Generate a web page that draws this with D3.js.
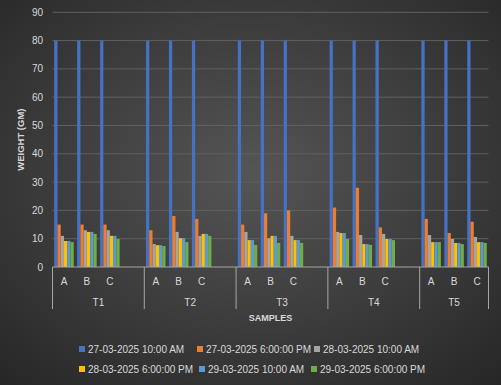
<!DOCTYPE html>
<html>
<head>
<meta charset="utf-8">
<script src="https://cdn.jsdelivr.net/npm/d3@7"></script>
<style>
  body { margin: 0; background: #333; }
  svg { display: block; font-family: "Liberation Sans", Arial, sans-serif; }
</style>
</head>
<body>
<svg id="chart" width="501" height="385"></svg>
<script>
let groups = ['T1', 'T2', 'T3', 'T4', 'T5']
let samples = ['A', 'B', 'C']
let seriesNames = ['27-03-2025 10:00 AM', '27-03-2025 6:00:00 PM', '28-03-2025 10:00 AM',
                   '28-03-2025 6:00:00 PM', '29-03-2025 10:00 AM', '29-03-2025 6:00:00 PM']
let colors = ['#4472C4', '#ED7D31', '#A5A5A5', '#FFC000', '#5B9BD5', '#70AD47']
let yTicks = [0, 10, 20, 30, 40, 50, 60, 70, 80, 90]

// values in order T1A, T1B, T1C, T2A ... T5C
let s1 = [80, 80, 80, 80, 80, 80, 80, 80, 80, 80, 80, 80, 80, 80, 80]
let s2 = [15, 15, 15, 13, 18, 17, 15, 19, 20, 21, 28, 14, 17, 12, 16]
let s3 = [11, 13, 13, 8.1, 12.4, 11, 12.4, 10.2, 11, 12.4, 11.3, 11.7, 11.3, 9.9, 10.6]
let s4 = [9.2, 12.4, 11, 7.7, 10.2, 11.7, 9.5, 11, 9.5, 12, 8.1, 9.9, 8.8, 8.5, 8.8]
let s5 = [9.2, 12.4, 11, 7.7, 10.2, 11.7, 9.5, 11, 9.5, 12, 8.1, 9.9, 8.8, 8.5, 8.8]
let s6 = [8.8, 11.7, 9.9, 7.4, 8.8, 11, 7.8, 8.5, 8.5, 9.9, 7.8, 9.5, 8.8, 8.1, 8.5]
let allSeries = [s1, s2, s3, s4, s5, s6]

let svg = d3.select('#chart')

// dark radial background
let defs = svg.append('defs')
let grad = defs.append('radialGradient').attr('id', 'bg')
    .attr('cx', '50%').attr('cy', '45%').attr('r', '75%')
grad.append('stop').attr('offset', '0%').attr('stop-color', '#555555')
grad.append('stop').attr('offset', '100%').attr('stop-color', '#262626')
svg.append('rect').attr('width', 501).attr('height', 385).attr('fill', 'url(#bg)')

// category keys, with an empty slot after each group except the last
let keys = []
groups.forEach((g, gi) => {
    samples.forEach(s => keys.push(g + '-' + s))
    if (gi < groups.length - 1) keys.push(g + '-gap')
})

let plotLeft = 52.5, plotRight = 488.5, plotTop = 12.3, plotBottom = 267
let x = d3.scaleBand().domain(keys).range([plotLeft, plotRight]).padding(0)
let y = d3.scaleLinear().domain([0, 90]).range([plotBottom, plotTop])
let inner = d3.scaleBand().domain(d3.range(6))
    .range([x.bandwidth() * 0.075, x.bandwidth() * 0.925]).padding(0)

// gridlines
svg.append('g').selectAll('line')
    .data(yTicks.filter(t => t > 0))
    .enter().append('line')
    .attr('x1', plotLeft).attr('x2', plotRight)
    .attr('y1', d => y(d)).attr('y2', d => y(d))
    .attr('stroke', '#606060').attr('stroke-width', 1)

// y tick labels
svg.append('g').selectAll('text')
    .data(yTicks)
    .enter().append('text')
    .attr('x', 43).attr('y', d => y(d) + 3.5)
    .attr('text-anchor', 'end')
    .attr('fill', '#d9d9d9').attr('font-size', 10)
    .text(d => d)

// bars
let cells = []
groups.forEach((g, gi) => {
    samples.forEach((s, si) => {
        allSeries.forEach((ser, k) => {
            cells.push({ key: g + '-' + s, k: k, v: ser[gi * 3 + si] })
        })
    })
})
svg.append('g').selectAll('rect')
    .data(cells)
    .enter().append('rect')
    .attr('x', d => x(d.key) + inner(d.k))
    .attr('width', inner.bandwidth())
    .attr('y', d => y(d.v))
    .attr('height', d => y(0) - y(d.v))
    .attr('fill', d => colors[d.k])

// category axis line
let axisCol = '#a6a6a6'
svg.append('line').attr('x1', plotLeft).attr('x2', plotRight)
    .attr('y1', plotBottom).attr('y2', plotBottom)
    .attr('stroke', axisCol).attr('stroke-width', 1)

// group dividers
let dividerX = groups.map(g => x(g + '-A')).concat([plotRight])
svg.append('g').selectAll('line')
    .data(dividerX)
    .enter().append('line')
    .attr('x1', d => d).attr('x2', d => d)
    .attr('y1', plotBottom).attr('y2', 309)
    .attr('stroke', axisCol).attr('stroke-width', 1)

// sample labels
svg.append('g').selectAll('text')
    .data(keys.filter(k => !k.endsWith('gap')))
    .enter().append('text')
    .attr('x', d => x(d) + x.bandwidth() / 2).attr('y', 284.5)
    .attr('text-anchor', 'middle')
    .attr('fill', '#d9d9d9').attr('font-size', 10)
    .text(d => d.split('-')[1])

// group labels
svg.append('g').selectAll('text')
    .data(groups)
    .enter().append('text')
    .attr('x', (g, i) => (dividerX[i] + dividerX[i + 1]) / 2).attr('y', 305.5)
    .attr('text-anchor', 'middle')
    .attr('fill', '#d9d9d9').attr('font-size', 10)
    .text(d => d)

// axis titles
svg.append('text')
    .attr('x', (plotLeft + plotRight) / 2).attr('y', 320.5)
    .attr('text-anchor', 'middle')
    .attr('fill', '#d9d9d9').attr('font-size', 9).attr('font-weight', 'bold')
    .text('SAMPLES')

svg.append('text')
    .attr('transform', 'translate(24,' + ((plotTop + plotBottom) / 2) + ') rotate(-90)')
    .attr('text-anchor', 'middle')
    .attr('fill', '#d9d9d9').attr('font-size', 9.5).attr('font-weight', 'bold')
    .text('WEIGHT (GM)')

// legend
let legendPos = [[79, 349], [197, 349], [314, 349], [79, 369], [199, 369], [311, 369]]
let legend = svg.append('g').selectAll('g')
    .data(seriesNames)
    .enter().append('g')
    .attr('transform', (d, i) => 'translate(' + legendPos[i][0] + ',' + legendPos[i][1] + ')')
legend.append('rect')
    .attr('x', 0).attr('y', -3).attr('width', 6).attr('height', 6)
    .attr('fill', (d, i) => colors[i])
legend.append('text')
    .attr('x', 9).attr('y', 3.5)
    .attr('fill', '#d9d9d9').attr('font-size', 10)
    .text(d => d)
</script>
</body>
</html>
